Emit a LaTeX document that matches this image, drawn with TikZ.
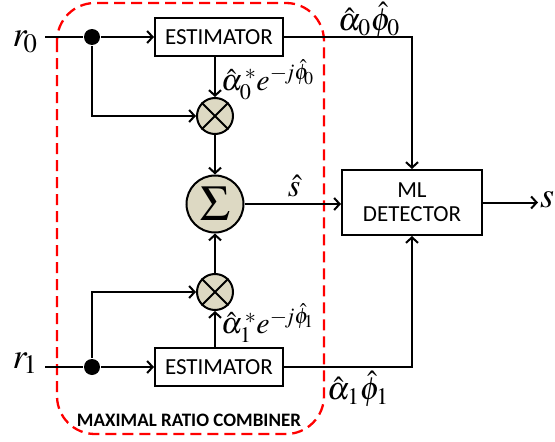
\documentclass[tikz,border=0pt]{standalone}
\usepackage{mathptmx}
\usepackage[no-math]{fontspec}
\setmainfont{Carlito}
\usetikzlibrary{arrows.meta}
\definecolor{tanfill}{RGB}{221,217,195}
\begin{document}
\begin{tikzpicture}[x=1pt,y=-1pt,line width=2pt,
  arr/.style={-{Straight Barb[length=5.5pt,width=12pt,line width=2pt]}},
  blk/.style={draw,line width=2pt,inner sep=0pt,font=\fontsize{23}{26}\selectfont},
  mul/.style={circle,draw,fill=tanfill,minimum size=36pt,inner sep=0pt},
  sumc/.style={circle,draw,fill=tanfill,minimum size=57pt,inner sep=0pt,font=\fontsize{50}{50}\selectfont},
  dot/.style={circle,fill=black,minimum size=16pt,inner sep=0pt},
  lab/.style={font=\fontsize{32}{34}\selectfont,inner sep=0pt},
  clab/.style={font=\fontsize{30}{32}\selectfont,inner sep=0pt,anchor=west},
  big/.style={font=\fontsize{36}{36}\selectfont,inner sep=0pt},
  mrc/.style={draw=red,line width=2.3pt,dash pattern=on 11pt off 6pt,rounded corners=38pt}
]
\useasboundingbox (0,0) rectangle (555,442);

% combiner frame
\draw[mrc] (57,3) rectangle (324,434);
\node[font=\fontsize{19}{21}\selectfont\bfseries,inner sep=0pt] (mrclab) at (189,420) {MAXIMAL RATIO COMBINER};

% blocks
\node[blk,minimum width=128pt,minimum height=38pt] (est0) at (219,37) {ESTIMATOR};
\node[blk,minimum width=128pt,minimum height=38pt] (est1) at (219,367) {ESTIMATOR};
\node[blk,minimum width=140pt,minimum height=65pt,align=center] (det) at (412,202.5) {ML\\[-2pt]DETECTOR};

\node[mul] (m0) at (215,116) {};
\node[mul] (m1) at (215,292) {};
\draw (m0.north west) -- (m0.south east) (m0.north east) -- (m0.south west);
\draw (m1.north west) -- (m1.south east) (m1.north east) -- (m1.south west);
\node[sumc] (sum) at (215,204) {$\Sigma$};

\node[dot] (d0) at (92,37) {};
\node[dot] (d1) at (92,367) {};

% labels
\node[big] (r0) at (25,42) {$r_{\!0}$};
\node[big] (r1) at (25,363) {$r_{\!1}$};
\node[big] (sout) at (547,200) {$s$};
\node[lab] (shat) at (294,186) {$\hat{s}$};
\node[lab] (a0p0) at (369,20) {$\hat{\alpha}_{0}\hat{\phi}_{0}$};
\node[lab] (a1p1) at (358,389) {$\hat{\alpha}_{1}\hat{\phi}_{1}$};
\node[clab] (c0) at (220,80) {$\hat{\alpha}_{0}^{\,*}e^{-\mkern-2mu j\hat{\phi}_{\!0}}$};
\node[clab] (c1) at (220,323) {$\hat{\alpha}_{1}^{\,*}e^{-\mkern-2mu j\hat{\phi}_{\!1}}$};

% coordinates
\coordinate (in0) at (45,37);
\coordinate (in1) at (45,367);
\coordinate (out) at (538,202.5);

% connections branch 0
\draw (in0) -- (d0);
\draw[arr] (d0) -- (est0.west);
\draw[arr] (d0) |- (m0.west);
\draw[arr] (m0 |- est0.south) -- (m0.north);
\draw[arr] (m0.south) -- (sum.north);
\draw[arr] (est0.east) -| (det.north);

% connections branch 1
\draw (in1) -- (d1);
\draw[arr] (d1) -- (est1.west);
\draw[arr] (d1) |- (m1.west);
\draw[arr] (m1 |- est1.north) -- (m1.south);
\draw[arr] (m1.north) -- (sum.south);
\draw[arr] (est1.east) -| (det.south);

% combiner output / detector output
\draw[arr] (sum.east) -- (sum.east -| det.west);
\draw[arr] (det.east) -- (out);
\end{tikzpicture}
\end{document}
